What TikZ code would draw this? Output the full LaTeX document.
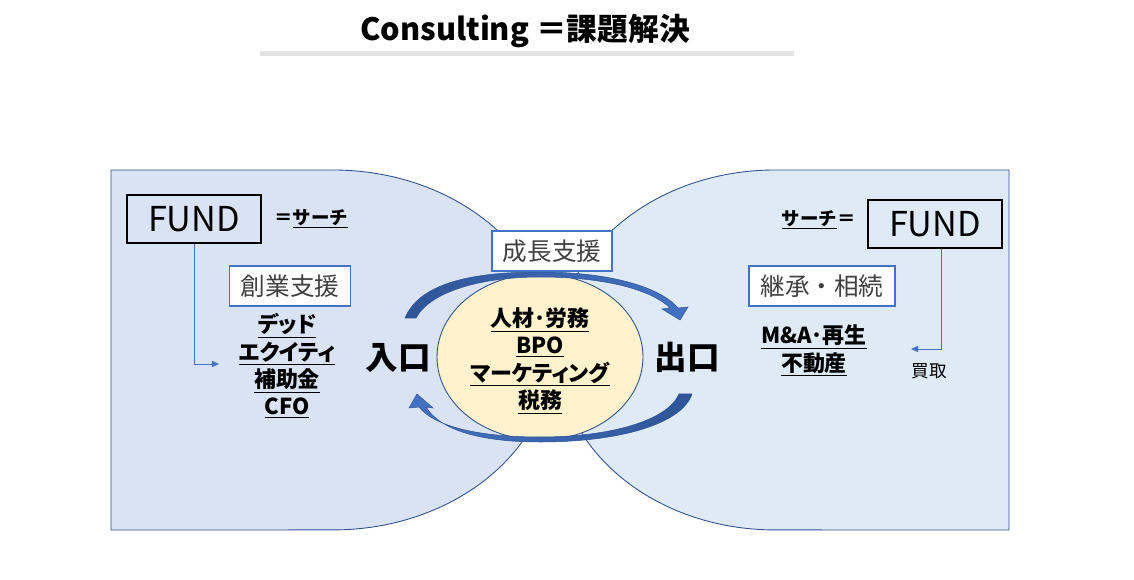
\documentclass[tikz,border=0pt]{standalone}
\usepackage{fontspec}
\setmainfont{Noto Sans CJK JP}
\usetikzlibrary{shapes,arrows.meta,positioning,calc}
\usepackage{xcolor}
\definecolor{panelleft}{HTML}{DAE3F3}
\definecolor{panelright}{HTML}{DEEBF7}
\definecolor{paneledge}{HTML}{2F528F}
\definecolor{lightyellow}{HTML}{FFF2CC}
\definecolor{boxblue}{HTML}{4472C4}
\definecolor{darkblue}{HTML}{2F5597}
\definecolor{bargray}{HTML}{E3E3E3}
\definecolor{textgray}{HTML}{404040}

\begin{document}
\begin{tikzpicture}[
    x=0.02cm, y=-0.02cm,
    every node/.style={font=\small, inner sep=0pt},
    fund/.style={rectangle, draw, line width=1.2pt, minimum width=2.68cm, minimum height=0.96cm, font=\fontsize{19.5}{22}\selectfont},
    stage/.style={rectangle, draw=boxblue, line width=0.6pt, fill=white, minimum height=0.8cm, text=textgray, font=\fontsize{14}{16}\selectfont},
    item/.style={align=center, font=\bfseries\fontsize{12.5}{15.5}\selectfont\addfontfeatures{RawFeature=+palt}},
    gate/.style={font=\bfseries\fontsize{18.5}{20}\selectfont},
    search/.style={font=\bfseries\fontsize{10.5}{12}\selectfont},
    panel/.style={draw=paneledge, line width=0.5pt},
    turn/.style={draw=darkblue, line width=0.3pt},
    link/.style={draw=boxblue, line width=0.5pt, -{Triangle[length=4pt,width=3.5pt]}}
]
    \useasboundingbox (0,0) rectangle (1134,580);

    % Panels
    \draw[panel, fill=panelleft] (111,170) -- (333,170)
        arc[start angle=90, end angle=-90, x radius=4.4cm, y radius=3.6cm] -- (111,530) -- cycle;
    \draw[panel, fill=panelright] (1009,170) -- (775,170)
        arc[start angle=90, end angle=270, x radius=4.36cm, y radius=3.6cm] -- (1009,530) -- cycle;

    % Title
    \node[font=\bfseries\fontsize{17.5}{20}\selectfont] (title) at (525,31) {Consulting ＝課題解決};
    \fill[bargray] (260,51) rectangle (794,56);

    % Core
    \node[ellipse, draw=paneledge, line width=0.5pt, fill=lightyellow, minimum width=4.12cm, minimum height=3.32cm] (core) at (540,357) {};
    \node[item, yshift=-0.08cm] (coretext) at (core)
        {\underline{人材･労務}\\ \underline{BPO}\\ \underline{マーケティング}\\ \underline{税務}};

    % Cycle arrows
    \draw[turn, left color=darkblue, right color=boxblue]
        (405,318) .. controls (420,282) and (475,272) .. (540,272)
        .. controls (610,272) and (660,287) .. (678,308)
        -- (688,307) -- (680,320) -- (662,309) -- (670,308)
        .. controls (652,290) and (605,277) .. (540,277)
        .. controls (480,277) and (430,292) .. (416,318) -- cycle;
    \draw[turn, left color=boxblue, right color=darkblue]
        (692,394) .. controls (682,424) and (620,442) .. (540,442)
        .. controls (480,442) and (440,430) .. (426,407)
        -- (433,408) -- (417,394) -- (409,408) -- (419,407)
        .. controls (435,427) and (480,437) .. (540,437)
        .. controls (612,437) and (668,420) .. (679,394) -- cycle;

    % Stages
    \node[stage, minimum width=2.42cm] (founding) at (290,286) {創業支援};
    \node[stage, minimum width=2.4cm] (growth) at (552,251) {成長支援};
    \node[stage, minimum width=2.92cm] (succession) at (822,286) {継承・相続};

    % Entry side
    \node[fund] (fundL) at (194,219) {FUND};
    \node[search, right=0.24cm of fundL] (searchL) {＝\underline{サーチ}};
    \node[item] (entryitems) at (287,366) {\underline{デッド}\\ \underline{エクイティ}\\ \underline{補助金}\\ \underline{CFO}};
    \node[gate] (entry) at (398,358) {入口};

    % Exit side
    \node[fund] (fundR) at (935,224) {FUND};
    \node[search, left=0.22cm of fundR, yshift=0.08cm] (searchR) {\underline{サーチ}＝};
    \node[item] (exititems) at (814,351) {\underline{M\&A･再生}\\ \underline{不動産}};
    \node[gate] (exit) at (687,357) {出口};
    \node[font=\fontsize{10}{12}\selectfont] (buy) at (929,371) {買取};

    % Links
    \coordinate (buyin) at (219,364);
    \coordinate (buyout) at (911,349);
    \draw[link] (fundL.south) |- (buyin);
    \draw[link] ([xshift=0.12cm]fundR.south) |- (buyout);
\end{tikzpicture}
\end{document}
